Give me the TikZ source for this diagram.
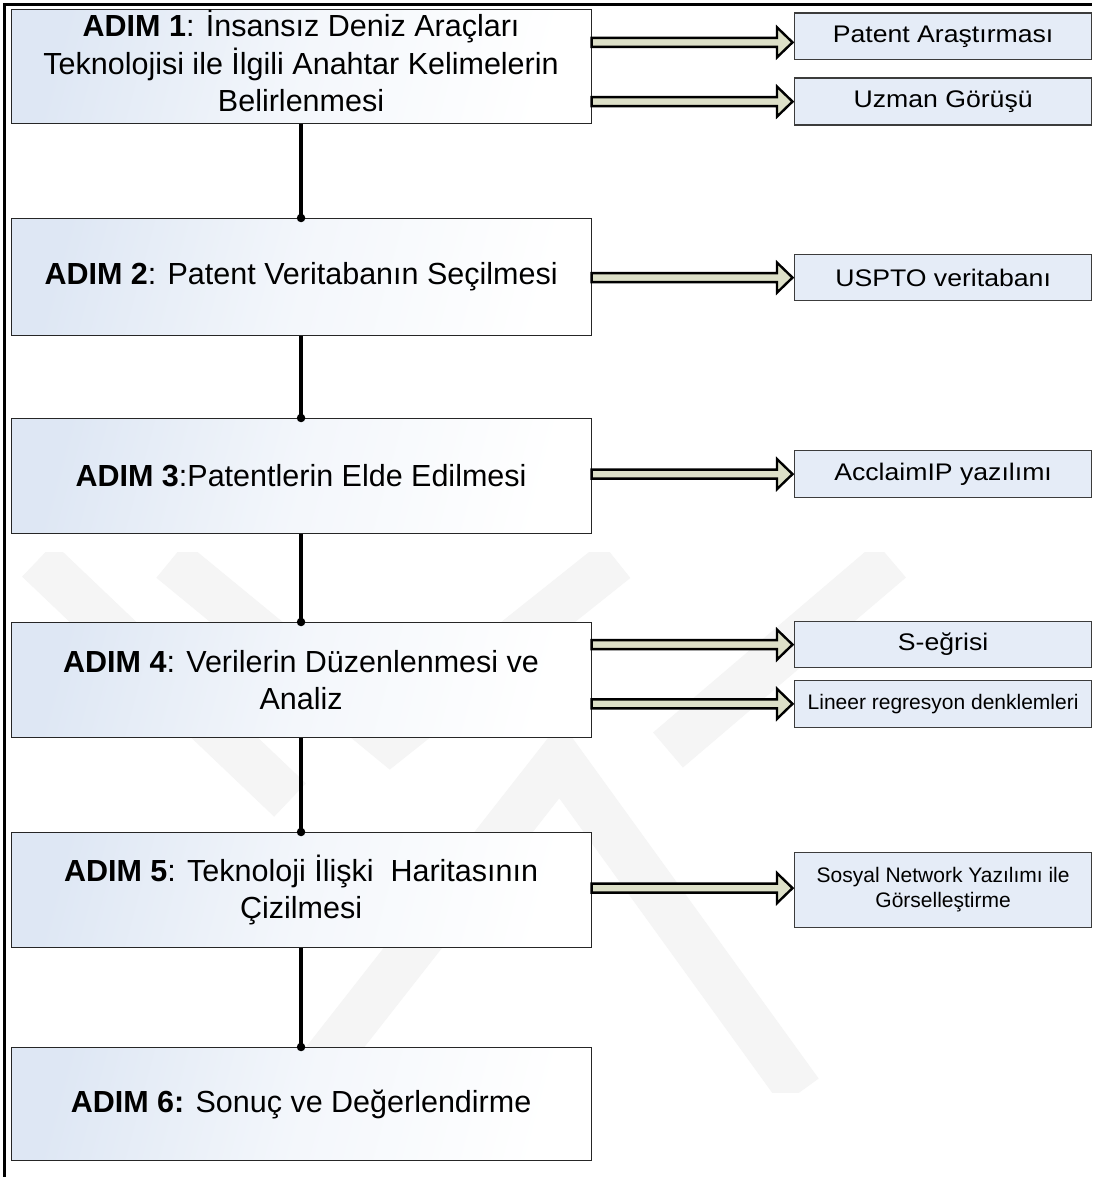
\documentclass[tikz,border=0pt]{standalone}
\usepackage{fontspec}
\setmainfont{Liberation Sans}
\newfontfamily\sidefont[FakeStretch=1.11]{Liberation Sans}
\usetikzlibrary{calc}

\definecolor{boxblue}{RGB}{222,231,244}
\definecolor{sidefill}{RGB}{229,236,247}
\definecolor{sideline}{RGB}{60,60,60}
\definecolor{arrowfill}{RGB}{221,224,200}
\definecolor{markgray}{RGB}{245,245,245}

\begin{document}
\begin{tikzpicture}[x=1pt,y=-1pt,
  stepbox/.style={draw=black!85, line width=1.1pt, minimum width=580pt,
    anchor=north west, inner sep=0pt, align=center,
    left color=boxblue, right color=white, middle color=boxblue!35,
    shading angle=75,
    font=\fontsize{30.5}{37}\selectfont},
  sidebox/.style={draw=sideline, fill=sidefill, line width=1.2pt,
    minimum width=297pt, anchor=north west, inner sep=0pt, align=center,
    font=\sidefont\fontsize{24}{28}\selectfont},
  smallside/.style={font=\fontsize{21}{25}\selectfont},
  link/.style={line width=4.5pt, black},
  dotend/.style={circle, fill=black, inner sep=0pt, minimum size=8.5pt},
  blockarrow/.style={fill=arrowfill, draw=black, line width=2.4pt,
    line join=miter,
    to path={let \p1=(\tikztostart), \p2=(\tikztotarget) in
      (\x1,\y1+4.5pt) -- (\x2-17pt,\y1+4.5pt) -- (\x2-17pt,\y1+15pt)
      -- (\x2-1.5pt,\y1) -- (\x2-17pt,\y1-15pt) -- (\x2-17pt,\y1-4.5pt)
      -- (\x1,\y1-4.5pt) -- cycle}},
  wmark/.style={draw=markgray, line width=46pt, line join=miter}
]
% page extent
\useasboundingbox (0,0) rectangle (1092,1177);
\fill[white] (0,0) rectangle (1092,1177);

% faint background emblem
\begin{scope}
  \clip (0,552) rectangle (1092,1092);
  \draw[wmark] (38,560) -- (290,800);
  \draw[wmark] (171,560) -- (390,740) -- (616,560);
  \draw[wmark] (891,560) -- (668,750);
  \draw[wmark] (300,1092) -- (560,760) -- (800,1092);
\end{scope}

% outer frame
\draw[line width=3pt] (4.5,1177) -- (4.5,4.5) -- (1092,4.5);

% process steps
\node[stepbox, minimum height=114pt] (b1) at (10.5,9)
  {\raisebox{4pt}{\begin{tabular}{@{}c@{}}\textbf{ADIM 1}: İnsansız Deniz Araçları\\Teknolojisi ile İlgili Anahtar Kelimelerin\\Belirlenmesi\end{tabular}}};
\node[stepbox, minimum height=117pt] (b2) at (10.5,218)
  {\textbf{ADIM 2}: Patent Veritabanın Seçilmesi};
\node[stepbox, minimum height=115pt] (b3) at (10.5,418)
  {\textbf{ADIM 3}:Patentlerin Elde Edilmesi};
\node[stepbox, minimum height=115pt] (b4) at (10.5,622)
  {\textbf{ADIM 4}: Verilerin Düzenlenmesi ve\\Analiz};
\node[stepbox, minimum height=115pt] (b5) at (10.5,832)
  {\textbf{ADIM 5}: Teknoloji İlişki\ \ Haritasının\\Çizilmesi};
\node[stepbox, minimum height=113pt] (b6) at (10.5,1047)
  {\textbf{ADIM 6:} Sonuç ve Değerlendirme};

% tools and methods
\node[sidebox, minimum height=46.5pt] (r1) at (794,12.5) {Patent Araştırması};
\node[sidebox, minimum height=47pt] (r2) at (794,77.5) {Uzman Görüşü};
\node[sidebox, minimum height=46pt] (r3) at (794,254) {USPTO veritabanı};
\node[sidebox, minimum height=47pt] (r4) at (794,450) {AcclaimIP yazılımı};
\node[sidebox, minimum height=46pt] (r5) at (794,621) {S-eğrisi};
\node[sidebox, smallside, minimum height=47.5pt] (r6) at (794,679.5) {Lineer regresyon denklemleri};
\node[sidebox, smallside, minimum height=75pt] (r7) at (794,852) {Sosyal Network Yazılımı ile\\Görselleştirme};

% vertical flow
\draw[link] (b1.south) -- (b2.north) node[dotend] {};
\draw[link] (b2.south) -- (b3.north) node[dotend] {};
\draw[link] (b3.south) -- (b4.north) node[dotend] {};
\draw[link] (b4.south) -- (b5.north) node[dotend] {};
\draw[link] (b5.south) -- (b6.north) node[dotend] {};

% block arrows to the side boxes
\path ([yshift=-6pt]r1.west) coordinate (r1in);
\draw[blockarrow] (b1.east |- r1in) to (r1in);
\draw[blockarrow] (b1.east |- r2.west) to (r2.west);
\draw[blockarrow] (b2.east |- r3.west) to (r3.west);
\draw[blockarrow] (b3.east |- r4.west) to (r4.west);
\draw[blockarrow] (b4.east |- r5.west) to (r5.west);
\draw[blockarrow] (b4.east |- r6.west) to (r6.west);
\path ([yshift=2pt]r7.west) coordinate (r7in);
\draw[blockarrow] (b5.east |- r7in) to (r7in);
\end{tikzpicture}
\end{document}
